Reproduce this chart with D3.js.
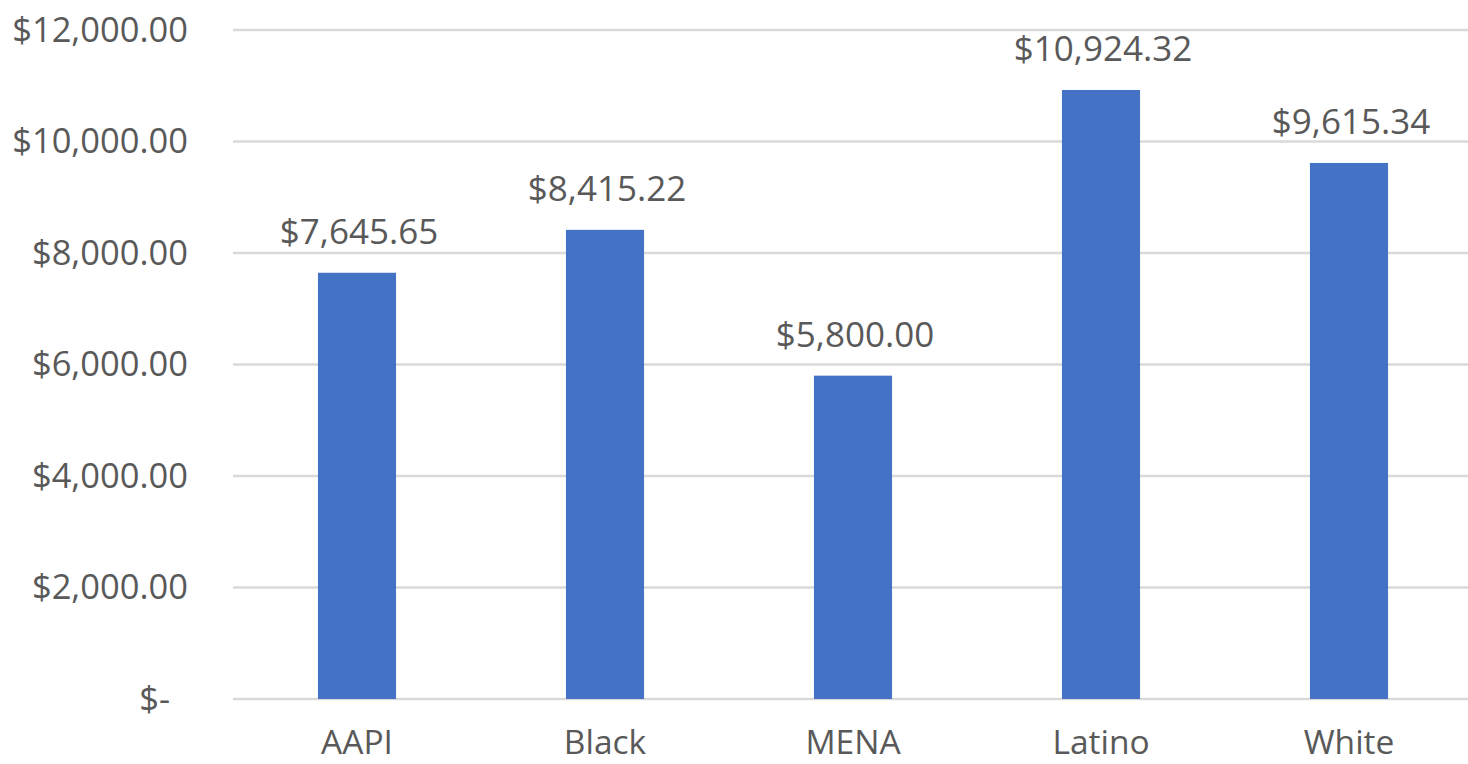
<!DOCTYPE html>
<html>
<head>
<meta charset="utf-8">
<script src="https://cdn.jsdelivr.net/npm/d3@7"></script>
<style>
  html, body { margin: 0; padding: 0; background: #ffffff; }
  svg { display: block; }
  text { font-family: "Open Sans", sans-serif; fill: #595959; }
</style>
</head>
<body>
<svg id="chart" width="1468" height="764"></svg>
<script>
const categories = ["AAPI", "Black", "MENA", "Latino", "White"];
const values = [7645.65, 8415.22, 5800.00, 10924.32, 9615.34];
const yTicks = [0, 2000, 4000, 6000, 8000, 10000, 12000];

const svg = d3.select("#chart");
const plotLeft = 233, plotRight = 1473, plotTop = 30, plotBottom = 699;

const x = d3.scaleBand().domain(categories).range([plotLeft, plotRight]).paddingInner(0.685).paddingOuter(0.3425);
const y = d3.scaleLinear().domain([0, 12000]).range([plotBottom, plotTop]);

const fmtMoney = v => v === 0 ? "$-" : "$" + d3.format(",.2f")(v);

// Gridlines
svg.append("g")
  .selectAll("line")
  .data(yTicks)
  .join("line")
  .attr("x1", plotLeft).attr("x2", plotRight)
  .attr("y1", d => y(d)).attr("y2", d => y(d))
  .attr("stroke", "#d9d9d9")
  .attr("stroke-width", 2.5);

// Y axis labels
const yAxis = svg.append("g")
  .attr("transform", `translate(${plotLeft},0)`)
  .call(d3.axisLeft(y).tickValues(yTicks).tickFormat(fmtMoney).tickSize(0).tickPadding(45));
yAxis.select(".domain").remove();
yAxis.selectAll("text")
  .style("font-family", '"Open Sans", sans-serif')
  .style("font-size", "34.5px")
  .attr("fill", "#595959")
  .attr("dx", d => d === 0 ? -18 : 0);

// Bars
svg.append("g")
  .selectAll("rect")
  .data(categories.map((c, i) => ({ c, v: values[i] })))
  .join("rect")
  .attr("x", d => x(d.c))
  .attr("width", x.bandwidth())
  .attr("y", d => y(d.v))
  .attr("height", d => y(0) - y(d.v))
  .attr("fill", "#4472c4");

// Data labels
svg.append("g")
  .selectAll("text")
  .data(categories.map((c, i) => ({ c, v: values[i] })))
  .join("text")
  .attr("x", d => x(d.c) + x.bandwidth() / 2 + 2)
  .attr("y", d => y(d.v) - 29)
  .attr("text-anchor", "middle")
  .style("font-size", "35px")
  .text(d => fmtMoney(d.v));

// X axis labels
const xAxis = svg.append("g")
  .attr("transform", `translate(0,${plotBottom})`)
  .call(d3.axisBottom(x).tickSize(0).tickPadding(31));
xAxis.select(".domain").remove();
xAxis.selectAll("text")
  .style("font-family", '"Open Sans", sans-serif')
  .style("font-size", "33.5px")
  .attr("fill", "#595959");
</script>
</body>
</html>
